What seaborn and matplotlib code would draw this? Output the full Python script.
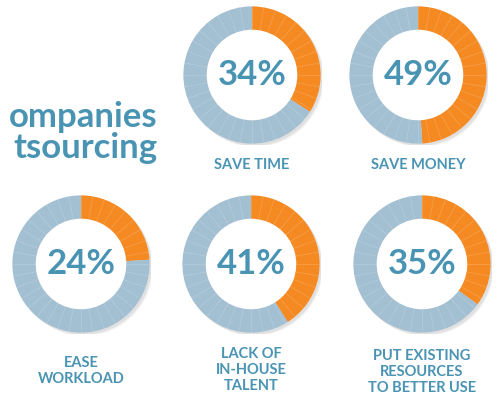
import numpy as np
import seaborn as sns
import matplotlib.pyplot as plt

# share of companies giving each reason for outsourcing
reasons = ["SAVE TIME", "SAVE MONEY", "EASE\nWORKLOAD", "LACK OF\nIN-HOUSE\nTALENT",
           "PUT EXISTING\nRESOURCES\nTO BETTER USE"]
pct = [34, 49, 24, 41, 35]
title_lines = ["ompanies", "tsourcing"]

# layout: donut centres and label tops in pixels (y from top)
centres = [(252, 75), (418, 75), (81, 264), (251, 264), (422, 264)]
label_top = [158, 158, 356, 347, 349]

orange = "#F58A22"
grey_blue = "#A3BFD2"
teal = "#4993B3"

sns.set_theme(style="white")
plt.rcParams["font.family"] = ["Lato", "DejaVu Sans"]

W, H = 499, 401
fig = plt.figure(figsize=(W / 100, H / 100), dpi=100)
fig.patch.set_facecolor("white")

R = 70
for (cx, cy), p, lab, ty in zip(centres, pct, reasons, label_top):
    ax = fig.add_axes([(cx - R) / W, 1 - (cy + R) / H, 2 * R / W, 2 * R / H])
    # soft shadow
    for k, a in enumerate([0.05, 0.04, 0.03]):
        ax.add_patch(plt.Circle((0.03 + 0.01 * k, -0.03 - 0.01 * k), 1.0,
                                color="black", alpha=a, lw=0, zorder=0))
    ax.add_patch(plt.Circle((0, 0), 0.66, color="white", zorder=0.5))
    ax.pie([p, 100 - p], colors=[orange, grey_blue], startangle=90,
           counterclock=False, radius=1.0,
           wedgeprops=dict(width=0.34, linewidth=0, zorder=1))
    # thin segment lines
    for ang in np.arange(0, 360, 10):
        t = np.deg2rad(90 - ang)
        ax.plot([0.66 * np.cos(t), 0.995 * np.cos(t)], [0.66 * np.sin(t), 0.995 * np.sin(t)],
                color="white", lw=0.5, alpha=0.2, zorder=2)
    ax.text(0, 0, f"{p}%", ha="center", va="center", fontsize=25,
            fontweight="bold", color=teal, zorder=3)
    ax.set_xlim(-1.02, 1.02)
    ax.set_ylim(-1.02, 1.02)
    ax.set_aspect("equal")
    ax.axis("off")
    # category label below the donut
    fig.text(cx / W, 1 - ty / H, lab, ha="center", va="top",
             fontsize=10.5, fontweight="bold", color=teal, linespacing=1.2)

fig.text(157 / W, 1 - 127 / H, title_lines[0], ha="right", va="baseline",
         fontsize=25, fontweight="bold", color=teal)
fig.text(157 / W, 1 - 158 / H, title_lines[1], ha="right", va="baseline",
         fontsize=25, fontweight="bold", color=teal)

fig.savefig("out.png", dpi=100, facecolor="white")
